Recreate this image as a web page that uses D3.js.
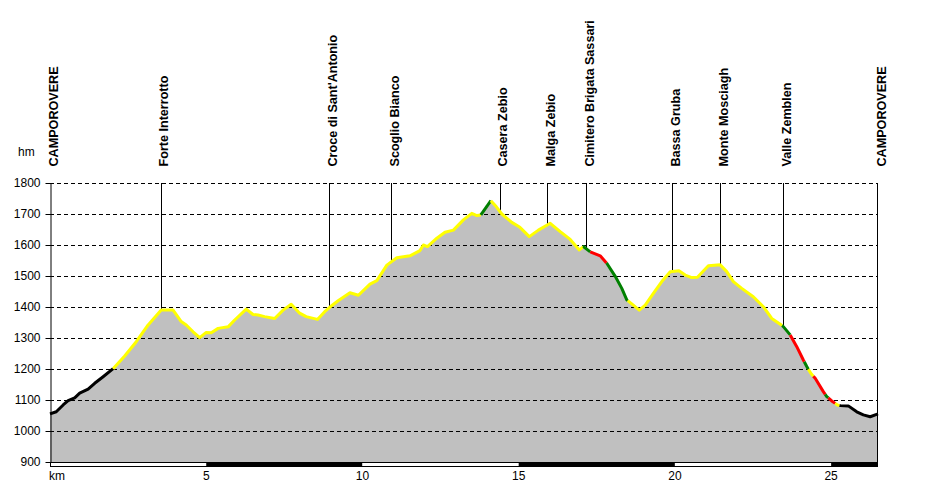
<!DOCTYPE html>
<html>

    <head>
        <title>Profilo altimetrico</title>
        <style>
            body { margin: 0; background: #fff; }
            text { font-family: "Liberation Sans", Arial, sans-serif; }
        </style>
        <script src="https://d3js.org/d3.v7.min.js"></script>
    </head>

    <body>
    </body>

    <script>

        let distKm = [0, 0.20, 0.42, 0.58, 0.79, 0.95, 1.22, 1.43, 1.70, 2.02, 2.39, 2.76, 3.14, 3.56, 3.94,
            4.20, 4.36, 4.58, 4.79, 5.00, 5.16, 5.38, 5.70, 5.91, 6.28, 6.50, 6.66, 6.87, 7.19, 7.46, 7.72,
            7.99, 8.20, 8.56, 8.79, 8.95, 9.22, 9.60, 9.87, 10.24, 10.46, 10.78, 11.10, 11.52, 11.84, 11.95,
            12.08, 12.38, 12.64, 12.91, 13.23, 13.50, 13.66, 13.79, 14.11, 14.28, 14.46, 14.78, 15.04, 15.34,
            15.63, 16.01, 16.33, 16.65, 16.94, 17.07, 17.29, 17.61, 17.82, 18.09, 18.30, 18.46, 18.67, 18.86,
            19.05, 19.31, 19.58, 19.85, 20.13, 20.33, 20.54, 20.72, 21.07, 21.45, 21.66, 21.87, 22.14, 22.51,
            22.83, 23.10, 23.45, 23.69, 23.90, 24.11, 24.22, 24.35, 24.49, 24.75, 24.86, 25.02, 25.20, 25.29,
            25.55, 25.82, 26.03, 26.25, 26.50];

        let elevation = [1055, 1062, 1084, 1098, 1107, 1122, 1135, 1154, 1175, 1201, 1242, 1288, 1342, 1390, 1390,
            1353, 1342, 1320, 1301, 1318, 1317, 1331, 1336, 1358, 1393, 1376, 1374, 1369, 1363, 1390, 1409,
            1380, 1369, 1360, 1385, 1399, 1420, 1446, 1438, 1474, 1485, 1535, 1559, 1565, 1582, 1600,
            1595, 1622, 1641, 1648, 1681, 1702, 1695, 1697, 1743, 1724, 1700, 1673, 1657, 1627,
            1648, 1670, 1643, 1618, 1584, 1595, 1578, 1565, 1541, 1499, 1460, 1423, 1406, 1390,
            1406, 1444, 1482, 1514, 1517, 1503, 1495, 1496, 1533, 1536, 1514, 1482, 1460, 1433,
            1401, 1363, 1339, 1310, 1272, 1229, 1208, 1186, 1170, 1127, 1111, 1097, 1084, 1082,
            1081, 1062, 1052, 1046, 1055];

        // tratti colorati del percorso: inizio km, fine km, colore
        let segStart = [0, 2.02, 13.79, 14.11, 17.06, 17.29, 17.81, 18.49, 23.43, 23.69, 24.14, 24.27, 24.43, 24.81, 24.91, 25.13, 25.27];
        let segEnd = [2.02, 13.79, 14.11, 17.06, 17.29, 17.81, 18.49, 23.43, 23.69, 24.14, 24.27, 24.43, 24.81, 24.91, 25.13, 25.27, 26.5];
        let segColor = ["#000000", "#ffff00", "#008000", "#ffff00", "#008000", "#ff0000", "#008000", "#ffff00",
            "#008000", "#ff0000", "#008000", "#ffff00", "#ff0000", "#008000", "#ff0000", "#ffff00", "#000000"];

        // località
        let placeNames = ["CAMPOROVERE", "Forte Interrotto", "Croce di Sant'Antonio", "Scoglio Bianco", "Casera Zebio",
            "Malga Zebio", "Cimitero Brigata Sassari", "Bassa Gruba", "Monte Mosciagh", "Valle Zemblen", "CAMPOROVERE"];
        let placeKm = [0, 3.55, 8.93, 10.92, 14.40, 15.91, 17.16, 19.91, 21.45, 23.46, 26.5];

        let yTicks = [900, 1000, 1100, 1200, 1300, 1400, 1500, 1600, 1700, 1800];
        let xTicks = [5, 10, 15, 20, 25];
        let barBreaks = [0, 5, 10, 15, 20, 25, 26.5];

        let width = 927,
            height = 490;

        let svg = d3.select("body").append("svg")
            .attr("width", width)
            .attr("height", height)

        let x = d3.scaleLinear()
            .domain([0, 26.5])
            .range([50, 878])

        let y = d3.scaleLinear()
            .domain([900, 1800])
            .range([462, 183])

        let data = distKm.map((d, i) => ({km: d, ele: elevation[i]}));

        function eleAt(km) {
            let i = d3.bisector(d => d.km).left(data, km);
            if (i <= 0) return data[0].ele;
            if (i >= data.length) return data[data.length - 1].ele;
            let a = data[i - 1], b = data[i];
            return a.ele + (b.ele - a.ele) * (km - a.km) / (b.km - a.km);
        }

        // area grigia
        svg.append("path")
            .datum(data)
            .attr("fill", "#c0c0c0")
            .attr("d", d3.area()
                .x(d => x(d.km))
                .y0(y(900))
                .y1(d => y(d.ele)))

        // griglia tratteggiata
        svg.append("g")
            .selectAll("line")
            .data(yTicks.filter(d => d > 900))
            .join("line")
                .attr("x1", x(0))
                .attr("x2", x(26.5))
                .attr("y1", d => y(d) + 0.5)
                .attr("y2", d => y(d) + 0.5)
                .attr("stroke", "#000")
                .attr("stroke-dasharray", "4,3")

        // linee verticali delle località
        svg.append("g")
            .selectAll("line")
            .data(placeKm.slice(1, -1))
            .join("line")
                .attr("x1", d => Math.round(x(d)) + 0.5)
                .attr("x2", d => Math.round(x(d)) + 0.5)
                .attr("y1", y(1800))
                .attr("y2", d => y(eleAt(d)))
                .attr("stroke", "#000")

        // bordo destro
        svg.append("line")
            .attr("x1", Math.round(x(26.5)) - 0.5)
            .attr("x2", Math.round(x(26.5)) - 0.5)
            .attr("y1", y(1800))
            .attr("y2", y(900))
            .attr("stroke", "#000")

        // etichette località
        svg.append("g")
            .selectAll("text")
            .data(placeNames)
            .join("text")
                .attr("transform", (d, i) => `translate(${x(placeKm[i]) + 7.5},166.5) rotate(-90)`)
                .attr("font-size", "12.6px")
                .attr("font-weight", "bold")
                .attr("fill", "#000")
                .text(d => d)

        // profilo colorato
        let line = d3.line()
            .x(d => x(d.km))
            .y(d => y(d.ele))

        let segments = segStart.map((s, i) => {
            let e = segEnd[i];
            let pts = [{km: s, ele: eleAt(s)}]
                .concat(data.filter(d => d.km > s && d.km < e))
                .concat([{km: e, ele: eleAt(e)}]);
            return {pts: pts, color: segColor[i]};
        });

        svg.append("g")
            .selectAll("path")
            .data(segments)
            .join("path")
                .attr("d", d => line(d.pts))
                .attr("fill", "none")
                .attr("stroke", d => d.color)
                .attr("stroke-width", 3)
                .attr("stroke-linejoin", "round")

        // asse verticale
        let yAxis = svg.append("g")
            .attr("transform", "translate(50.5,0)")
            .call(d3.axisLeft(y).tickValues(yTicks).tickSize(5).tickSizeOuter(0).tickPadding(5).tickFormat(d3.format("d")))

        yAxis.select(".domain").attr("stroke", "#000")
        yAxis.selectAll(".tick line").attr("stroke", "#000")
        yAxis.selectAll(".tick text")
            .attr("font-family", "Liberation Sans, Arial, sans-serif")
            .attr("font-size", "12px")
            .attr("fill", "#000")

        svg.append("text")
            .attr("x", 18)
            .attr("y", 156)
            .attr("font-size", "12px")
            .text("hm")

        // barra dei km
        svg.append("g")
            .selectAll("rect")
            .data(barBreaks.slice(0, -1))
            .join("rect")
                .attr("x", (d, i) => x(d))
                .attr("y", 462)
                .attr("width", (d, i) => x(barBreaks[i + 1]) - x(d))
                .attr("height", 4)
                .attr("fill", (d, i) => i % 2 ? "#000" : "#fff")

        svg.append("rect")
            .attr("x", x(0) + 0.5)
            .attr("y", 462.5)
            .attr("width", x(26.5) - x(0) - 1)
            .attr("height", 4)
            .attr("fill", "none")
            .attr("stroke", "#000")

        svg.append("line")
            .attr("x1", x(0))
            .attr("x2", x(26.5))
            .attr("y1", 462.5)
            .attr("y2", 462.5)
            .attr("stroke", "#000")

        svg.append("text")
            .attr("x", 49)
            .attr("y", 480)
            .attr("font-size", "12px")
            .text("km")

        svg.append("g")
            .selectAll("text")
            .data(xTicks)
            .join("text")
                .attr("x", d => x(d))
                .attr("y", 480)
                .attr("text-anchor", "middle")
                .attr("font-size", "12px")
                .text(d => d)

    </script>

</html>
